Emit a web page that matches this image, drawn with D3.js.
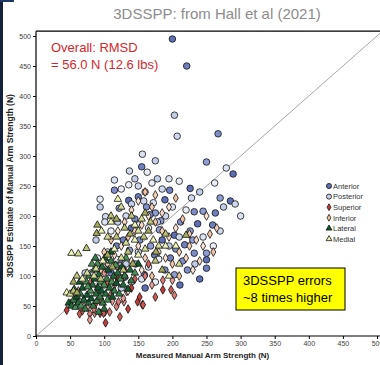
<!DOCTYPE html>
<html>
<head>
<meta charset="utf-8">
<script src="https://cdn.jsdelivr.net/npm/d3@7"></script>
<style>
  body { margin: 0; background: #fff; }
  svg { display: block; font-family: "Liberation Sans", Arial, sans-serif; }
</style>
</head>
<body>
<svg id="chart" width="380" height="365"></svg>
<script>
// values: [measured N, 3DSSPP estimate N]
const anterior = [[200,495],[221,450],[267,337],[250,290],[289,270],[155,282],[115,243],[122,213],[136,226],[150,232],[162,215],[175,205],[189,227],[196,243],[167,202],[181,177],[203,168],[218,152],[152,160],[137,143],[123,127],[174,135],[189,110],[203,102],[211,85],[159,102],[232,207],[245,208],[237,187],[259,185],[232,138],[250,138],[250,127],[250,113],[222,110],[270,230],[285,225],[263,205],[212,190],[226,175],[140,180],[128,160],[145,195],[168,150],[185,160],[197,130],[215,125],[230,160],[240,95],[110,105],[130,98],[146,120],[160,80],[118,150],[205,145],[183,192],[226,246]];
const posterior = [[203,368],[207,333],[156,303],[163,273],[175,292],[137,275],[279,280],[94,228],[94,215],[102,199],[101,190],[136,252],[72,105],[81,105],[115,260],[125,245],[145,262],[150,250],[160,240],[170,255],[178,262],[185,245],[195,262],[210,258],[140,220],[158,225],[172,222],[110,175],[120,190],[132,200],[150,185],[165,180],[178,190],[190,200],[200,215],[220,210],[275,215],[292,220],[300,200],[262,255],[240,240],[228,230],[105,140],[118,128],[132,120],[150,140],[165,115],[180,128],[195,150],[210,165],[90,130],[98,115],[88,160],[140,90],[155,95],[175,90],[125,80],[100,85],[245,165],[260,150],[233,120],[270,175]];
const superior = [[51,54],[64,37],[79,37],[86,38],[94,38],[101,40],[108,40],[79,27],[102,22],[123,32],[118,49],[133,74],[45,43],[99,38],[121,57],[129,57],[149,57],[156,52],[186,93],[200,93],[186,77],[198,77],[203,68],[128,63],[152,65],[157,52],[70,60],[75,48],[88,55],[95,62],[110,70],[115,85],[140,80],[145,95],[160,100],[170,85],[120,95],[105,90],[90,80],[62,75],[135,45],[175,65],[80,90],[100,105],[130,110],[165,120],[85,45],[112,58],[58,62],[68,42]];
const inferior = [[95,110],[105,120],[115,135],[125,150],[135,165],[145,175],[155,185],[165,200],[175,190],[185,175],[195,165],[205,180],[215,195],[225,170],[235,160],[245,150],[255,170],[265,180],[140,210],[150,225],[160,240],[170,215],[130,190],[120,175],[110,160],[100,140],[180,140],[190,130],[200,120],[210,140],[220,130],[230,110],[170,100],[160,130],[150,150],[140,125],[130,100],[120,115],[185,205],[195,215],[205,230],[175,235],[240,125],[250,200],[260,140],[115,90],[135,75],[155,110],[210,100],[225,150]];
const lateral = [[48,55],[52,50],[55,60],[58,48],[60,65],[62,55],[65,70],[66,50],[68,80],[70,60],[72,45],[74,90],[75,68],[77,55],[78,100],[80,75],[81,62],[83,85],[84,50],[85,110],[86,95],[88,70],[89,58],[90,120],[91,80],[92,102],[94,65],[95,90],[96,75],[97,115],[98,55],[100,85],[101,130],[102,70],[104,95],[105,60],[106,110],[108,80],[110,125],[111,90],[112,65],[114,100],[115,75],[117,118],[118,88],[120,105],[122,70],[124,95],[126,115],[128,85],[130,100],[132,130],[135,78],[138,110],[140,92],[145,105],[150,120],[100,45],[92,40],[76,82],[64,90],[56,78],[87,130],[82,120],[110,140]];
const medial = [[45,72],[50,70],[55,75],[60,72],[52,138],[62,137],[74,146],[89,171],[145,185],[155,195],[168,190],[90,185],[96,175],[105,165],[110,200],[118,195],[120,228],[125,215],[130,180],[138,170],[145,160],[150,175],[158,165],[165,175],[172,160],[180,150],[190,170],[220,168],[205,150],[132,155],[118,165],[176,140],[190,150],[75,105],[60,100],[55,90],[68,95],[85,100],[95,95],[105,135],[115,145],[125,130],[135,140],[142,120],[150,135],[160,145],[128,110],[112,115],[98,125],[88,112],[175,125],[185,110],[195,100],[210,120],[140,200],[160,205],[110,190]];

const seriesNames = ['Anterior', 'Posterior', 'Superior', 'Inferior', 'Lateral', 'Medial'];
const seriesData = [anterior, posterior, superior, inferior, lateral, medial];
const ticks = [0, 50, 100, 150, 200, 250, 300, 350, 400, 450, 500];

const styles = {
  Anterior: { shape: d3.symbolCircle, size: 34, c0: '#5f6fb5', c1: '#8e9cd3' },
  Posterior: { shape: d3.symbolCircle, size: 34, c0: '#c3cfea', c1: '#e9eef9' },
  Superior: { shape: d3.symbolDiamond, size: 22, c0: '#c43a34', c1: '#e99a93' },
  Inferior: { shape: d3.symbolDiamond, size: 22, c0: '#f2c3a2', c1: '#fbe6d6' },
  Lateral: { shape: d3.symbolTriangle, size: 24, c0: '#0e5a2c', c1: '#4a9356' },
  Medial: { shape: d3.symbolTriangle, size: 24, c0: '#eef5b4', c1: '#a4aa5a' }
};

const svg = d3.select('#chart');

const x = d3.scaleLinear().domain([0, 500]).range([36, 377]);
const y = d3.scaleLinear().domain([0, 500]).range([336, 36]);

// slide edge
svg.append('rect').attr('x', 0).attr('y', 0).attr('width', 3).attr('height', 365).attr('fill', '#14213d');
svg.append('rect').attr('x', 0).attr('y', 0).attr('width', 14).attr('height', 2).attr('fill', '#1f3864');

svg.append('text')
  .attr('x', 217).attr('y', 19)
  .attr('text-anchor', 'middle')
  .attr('font-size', 15)
  .attr('fill', '#8c8c8c')
  .text('3DSSPP: from Hall et al (2021)');

const plot = svg.append('g');

plot.append('clipPath').attr('id', 'clip')
  .append('rect').attr('x', x(0)).attr('y', y(508)).attr('width', 380).attr('height', y(0) - y(508));

// identity line
plot.append('line')
  .attr('clip-path', 'url(#clip)')
  .attr('x1', x(0)).attr('y1', y(0)).attr('x2', x(510)).attr('y2', y(510))
  .attr('stroke', '#a6a6a6').attr('stroke-width', 1);

// axes
const xAxis = plot.append('g')
  .attr('transform', `translate(0,${y(0)})`)
  .call(d3.axisBottom(x).tickValues(ticks).tickSize(3).tickPadding(2));
const yAxis = plot.append('g')
  .attr('transform', `translate(${x(0)},0)`)
  .call(d3.axisLeft(y).tickValues(ticks).tickSize(3).tickPadding(2));

[xAxis, yAxis].forEach((a) => {
  a.select('.domain').remove();
  a.selectAll('line').attr('stroke', '#000');
  a.selectAll('text').attr('font-size', 7).attr('fill', '#404040').attr('font-family', 'Liberation Sans, Arial, sans-serif');
});

// frame
plot.append('line').attr('x1', x(0)).attr('x2', 380).attr('y1', y(508)).attr('y2', y(508)).attr('stroke', '#000').attr('stroke-width', 1.2);
plot.append('line').attr('x1', x(0)).attr('x2', x(0)).attr('y1', y(508)).attr('y2', y(0)).attr('stroke', '#000').attr('stroke-width', 1.2);
plot.append('line').attr('x1', x(0)).attr('x2', 380).attr('y1', y(0)).attr('y2', y(0)).attr('stroke', '#000').attr('stroke-width', 1.2);

// points
const symbol = d3.symbol();
seriesNames.forEach((name, k) => {
  const st = styles[name];
  const shade = d3.interpolateRgb(st.c0, st.c1);
  plot.append('g').selectAll('path')
    .data(seriesData[k])
    .enter().append('path')
    .attr('transform', (d) => `translate(${x(d[0])},${y(d[1])})`)
    .attr('d', symbol.type(st.shape).size(st.size)())
    .attr('fill', (d, i) => shade((i % 4) / 3))
    .attr('stroke', '#111')
    .attr('stroke-width', 0.8);
});

// axis titles
svg.append('text')
  .attr('x', (x(0) + x(500)) / 2 - 4).attr('y', 358)
  .attr('text-anchor', 'middle')
  .attr('font-size', 8).attr('font-weight', 'bold').attr('fill', '#222')
  .text('Measured Manual Arm Strength (N)');

svg.append('text')
  .attr('transform', `translate(13,${(y(0) + y(500)) / 2}) rotate(-90)`)
  .attr('text-anchor', 'middle')
  .attr('font-size', 8.5).attr('font-weight', 'bold').attr('fill', '#222')
  .text('3DSSPP Estimate of Manual Arm Strength (N)');

// RMSD note
const note = svg.append('text').attr('font-size', 13).attr('fill', '#d9262b');
note.append('tspan').attr('x', 51).attr('y', 52).text('Overall: RMSD');
note.append('tspan').attr('x', 51).attr('y', 69).text('= 56.0 N (12.6 lbs)');

// legend
const legend = svg.append('g').attr('transform', 'translate(329,186)');
seriesNames.forEach((name, k) => {
  const st = styles[name];
  const g = legend.append('g').attr('transform', `translate(0,${k * 10.6})`);
  g.append('path')
    .attr('d', symbol.type(st.shape).size(st.size * 0.6)())
    .attr('fill', st.c0)
    .attr('stroke', '#111').attr('stroke-width', 0.8);
  g.append('text')
    .attr('x', 4).attr('y', 2.7)
    .attr('font-size', 7.5).attr('fill', '#333')
    .text(name);
});

// callout box
const box = svg.append('g');
box.append('rect')
  .attr('x', 236).attr('y', 268).attr('width', 109).attr('height', 42)
  .attr('fill', '#ffff00').attr('stroke', '#000').attr('stroke-width', 1);
const bt = box.append('text').attr('font-size', 13).attr('fill', '#000');
bt.append('tspan').attr('x', 243).attr('y', 285).text('3DSSPP errors');
bt.append('tspan').attr('x', 243).attr('y', 302).text('~8 times higher');
</script>
</body>
</html>
